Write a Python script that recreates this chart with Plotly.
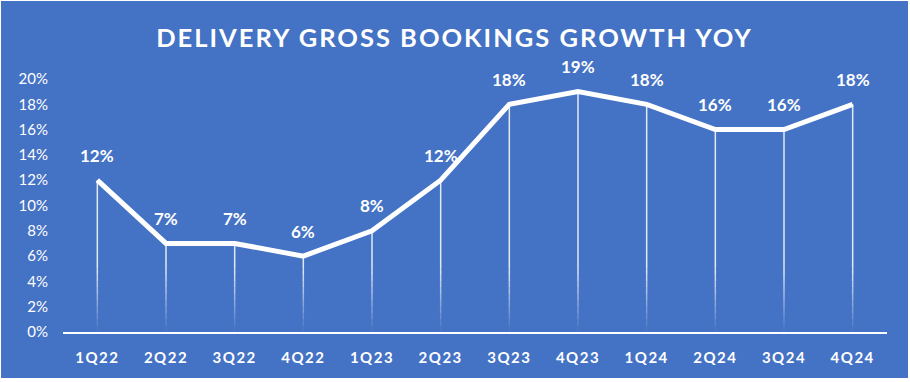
import plotly.graph_objects as go

quarters = ["1Q22", "2Q22", "3Q22", "4Q22", "1Q23", "2Q23", "3Q23", "4Q23", "1Q24", "2Q24", "3Q24", "4Q24"]
growth = [12, 7, 7, 6, 8, 12, 18, 19, 18, 16, 16, 18]
y_ticks = [0, 2, 4, 6, 8, 10, 12, 14, 16, 18, 20]
y_tick_labels = [f"{v}%" for v in y_ticks]
title_text = "DELIVERY GROSS BOOKINGS GROWTH YOY"

BG = "#4472C4"
FONT = "Lato"

fig = go.Figure()

# drop lines: solid from the point down to the fade zone, then fading in steps
FADE_TOP = 5.0
STEPS = 10
xs, ys = [], []
for q, v in zip(quarters, growth):
    xs += [q, q, None]
    ys += [v, FADE_TOP, None]
fig.add_trace(go.Scatter(x=xs, y=ys, mode="lines",
                         line=dict(color="rgba(255,255,255,0.85)", width=1.5),
                         hoverinfo="skip", showlegend=False))
for s in range(STEPS):
    top = FADE_TOP * (STEPS - s) / STEPS
    bot = FADE_TOP * (STEPS - s - 1) / STEPS
    op = 0.85 * (STEPS - s - 0.5) / STEPS
    xs, ys = [], []
    for q in quarters:
        xs += [q, q, None]
        ys += [top, bot, None]
    fig.add_trace(go.Scatter(x=xs, y=ys, mode="lines",
                             line=dict(color=f"rgba(255,255,255,{op:.3f})", width=1.5),
                             hoverinfo="skip", showlegend=False))

fig.add_trace(go.Scatter(x=quarters, y=growth, mode="lines",
                         line=dict(color="white", width=5),
                         showlegend=False))

for q, v in zip(quarters, growth):
    fig.add_annotation(x=q, y=v, text=f"<b>{v}%</b>", showarrow=False,
                       yshift=25, font=dict(family=FONT, size=17, color="white"))

fig.update_layout(
    width=907, height=377,
    paper_bgcolor=BG, plot_bgcolor=BG,
    margin=dict(l=62, r=21, t=78, b=44),
    title=dict(text=f"<b>{title_text}</b>", x=0.5, xanchor="center",
               y=1 - 37.5 / 377, yanchor="middle", yref="container",
               font=dict(family=FONT, size=25.5, color="white")),
    font=dict(family=FONT, color="white"),
    xaxis=dict(type="category", categoryorder="array", categoryarray=quarters,
               tickvals=quarters, ticktext=[f"<b>{q}</b>" for q in quarters],
               showgrid=False, zeroline=False, showline=True, linecolor="white", linewidth=2,
               ticks="", tickfont=dict(family=FONT, size=15, color="white"),
               ticklabelstandoff=11, range=[-0.5, len(quarters) - 0.5]),
    yaxis=dict(range=[0, 20], tickvals=y_ticks, ticktext=y_tick_labels,
               showgrid=False, zeroline=False, showline=False, ticks="",
               tickfont=dict(family=FONT, size=15, color="white"),
               ticklabelstandoff=14),
)

post = """
document.body.style.margin='0';
document.body.style.padding='1px';
document.body.style.background='white';
document.querySelectorAll('.gtitle').forEach(e=>e.style.letterSpacing='2px');
document.querySelectorAll('.xtick text').forEach(e=>e.style.letterSpacing='1.5px');
"""
fig.write_html("out.html", post_script=post)
